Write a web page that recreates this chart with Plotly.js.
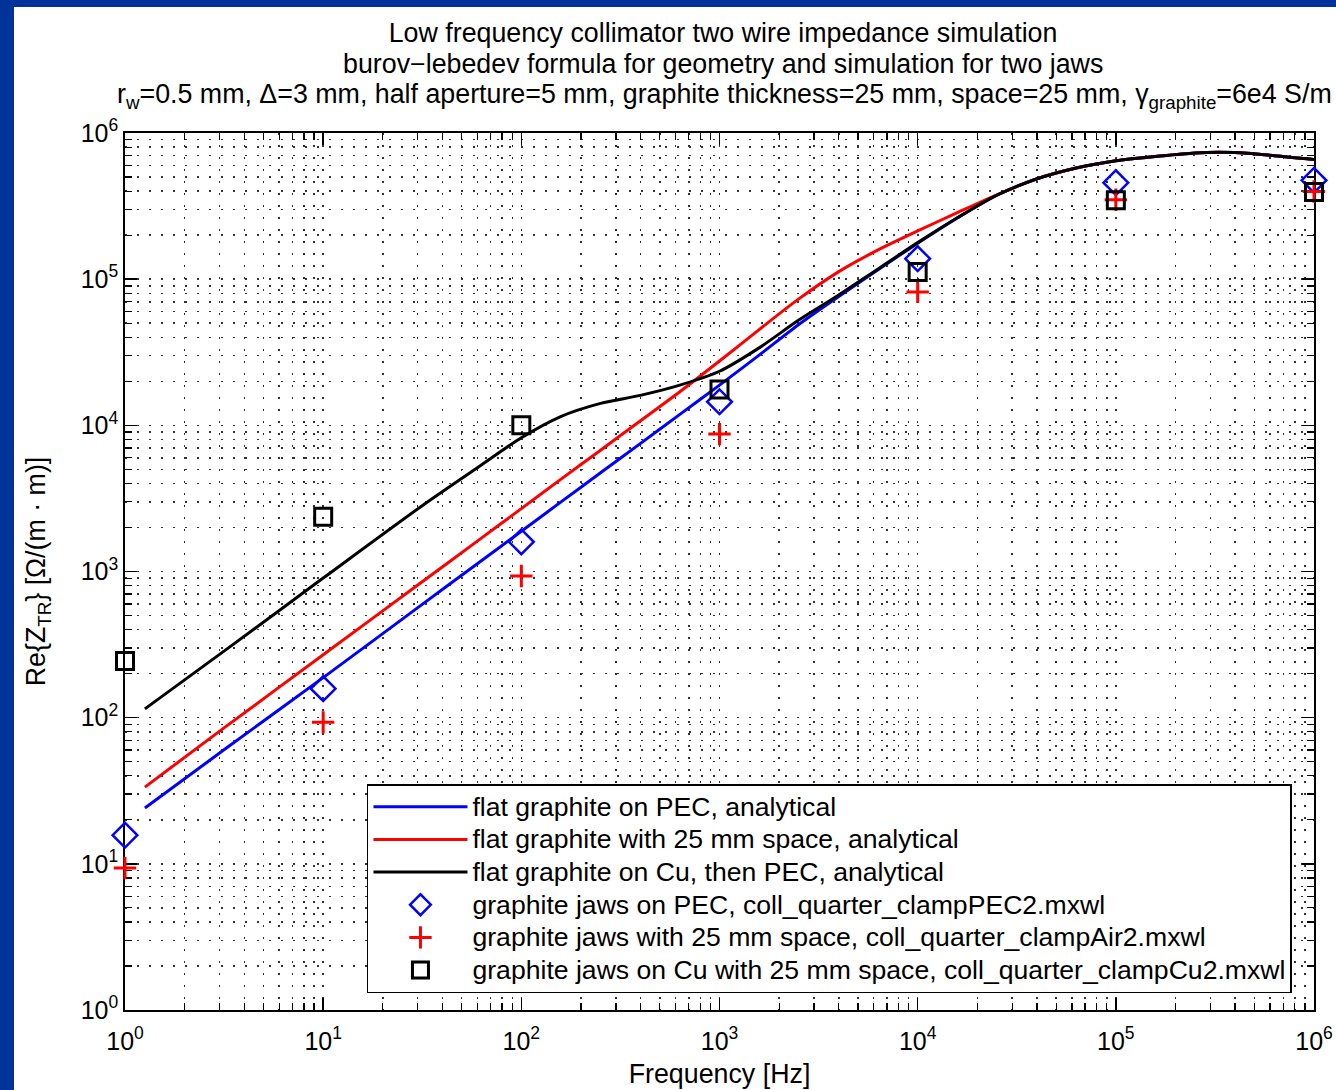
<!DOCTYPE html>
<html>
<head>
<meta charset="utf-8">
<script src="https://cdn.plot.ly/plotly-3.0.1.min.js"></script>
<style>
  html, body { margin: 0; padding: 0; background: #003399; width: 1336px; height: 1090px; overflow: hidden; }
  #chart { position: absolute; left: 14px; top: 7px; width: 1322px; height: 1083px; background: #ffffff; }
</style>
</head>
<body>
<div id="chart"></div>
<script>
// Analytical curves: frequency [Hz] and Re{Z_TR} [Ohm/(m*m)]
const freqAnalytic = [1.26, 3.16, 10, 31.6, 63.1, 100, 158, 251, 398, 631, 1000, 1585, 2512, 3981, 6310,
  1e4, 15850, 25120, 39810, 63100, 1e5, 158500, 251200, 398100, 631000, 1e6];
const zPEC = [24.1, 60.3, 188, 596, 1189, 1884, 2985, 4732, 7499, 11885, 18836, 30200, 48980, 75860, 116100,
  175800, 261800, 375000, 484200, 575400, 645700, 691800, 731100, 734500, 699800, 659200];
const zSpace = [33.5, 85.1, 269.2, 851.1, 1698, 2692, 4266, 6761, 10720, 16980, 27540, 45190, 73280, 112200, 158500,
  213800, 285100, 377600, 485300, 575400, 645700, 691800, 731100, 734500, 699800, 659200];
const zCu = [114.8, 285.1, 901.6, 2818, 5370, 8222, 11480, 14130, 16030, 18840, 23440, 33880, 52480, 77620, 117500,
  177800, 263000, 375800, 484200, 575400, 645700, 691800, 731100, 734500, 699800, 659200];

// Simulation points
const freqSim = [1, 10, 100, 1000, 1e4, 1e5, 1e6];
const simPEC = [15.7, 158, 1596, 14500, 138000, 457000, 475000];
const simAir = [9.35, 92.9, 931, 8710, 81800, 349000, 398000];
const simCu = [244, 2366, 10000, 17600, 112000, 347000, 395000];

// Axis ticks
const decadeVals = [1, 10, 100, 1000, 1e4, 1e5, 1e6];
const decadeText = ['10<sup>0</sup>', '10<sup>1</sup>', '10<sup>2</sup>', '10<sup>3</sup>', '10<sup>4</sup>', '10<sup>5</sup>', '10<sup>6</sup>'];
const minorVals = [];
for (let k = 0; k < 6; k++) { for (let d = 2; d <= 9; d++) { minorVals.push(d * Math.pow(10, k)); } }

const titleLines = [
  'Low frequency collimator two wire impedance simulation',
  'burov\u2212lebedev formula for geometry and simulation for two jaws',
  'r<sub>w</sub>=0.5 mm, \u0394=3 mm, half aperture=5 mm, graphite thickness=25 mm, space=25 mm, \u03b3<sub>graphite</sub>=6e4 S/m'
];

const legendNames = [
  'flat graphite on PEC, analytical',
  'flat graphite with 25 mm space, analytical',
  'flat graphite on Cu, then PEC, analytical',
  'graphite jaws on PEC, coll_quarter_clampPEC2.mxwl',
  'graphite jaws with 25 mm space, coll_quarter_clampAir2.mxwl',
  'graphite jaws on Cu with 25 mm space, coll_quarter_clampCu2.mxwl'
];

const FONT = '"Liberation Sans", Arial, Helvetica, sans-serif';
const FS = 26.8;
const legendLabel = (s) => '<span style="font-size:26.6px">' + s + '</span>';

const traces = [
  { x: freqAnalytic, y: zPEC, mode: 'lines', name: legendLabel(legendNames[0]), line: { color: '#0000ff', width: 3, shape: 'spline', smoothing: 0.8 } },
  { x: freqAnalytic, y: zSpace, mode: 'lines', name: legendLabel(legendNames[1]), line: { color: '#ff0000', width: 3, shape: 'spline', smoothing: 0.8 } },
  { x: freqAnalytic, y: zCu, mode: 'lines', name: legendLabel(legendNames[2]), line: { color: '#000000', width: 3, shape: 'spline', smoothing: 0.8 } },
  { x: freqSim, y: simPEC, mode: 'markers', name: legendLabel(legendNames[3]), cliponaxis: false,
    marker: { symbol: 'diamond-open', size: 19, color: '#0000ff', line: { color: '#0000ff', width: 2.5 } } },
  { x: freqSim, y: simAir, mode: 'markers', name: legendLabel(legendNames[4]), cliponaxis: false,
    marker: { symbol: 'cross-thin-open', size: 16, color: '#ff0000', line: { color: '#ff0000', width: 3 } } },
  { x: freqSim, y: simCu, mode: 'markers', name: legendLabel(legendNames[5]), cliponaxis: false,
    marker: { symbol: 'square-open', size: 17, color: '#000000', line: { color: '#000000', width: 3 } } }
];

const gridCommon = {
  showgrid: true, gridcolor: '#333333', gridwidth: 1.5, griddash: '2px,10px'
};

const axisCommon = Object.assign({
  type: 'log',
  tickmode: 'array',
  tickvals: decadeVals,
  ticktext: decadeText,
  ticks: 'inside', ticklen: 12, tickwidth: 1.5, tickcolor: '#000',
  showline: true, linecolor: '#000', linewidth: 1.8, mirror: 'allticks',
  zeroline: false,
  layer: 'below traces',
  tickfont: { family: FONT, size: 25, color: '#000' },
  minor: Object.assign({ tickmode: 'array', tickvals: minorVals, ticks: 'inside', ticklen: 7, tickwidth: 1.3, tickcolor: '#000' }, gridCommon)
}, gridCommon);

const layout = {
  width: 1322, height: 1083,
  margin: { l: 111, r: 22, t: 126, b: 80 },
  paper_bgcolor: '#ffffff', plot_bgcolor: '#ffffff',
  font: { family: FONT, size: FS, color: '#000' },
  title: {
    text: titleLines[0],
    font: { family: FONT, size: FS, color: '#000' },
    x: 0.503, xref: 'paper', xanchor: 'center',
    y: 1 - 25.5 / 1083, yref: 'container', yanchor: 'middle'
  },
  annotations: [
    { text: titleLines[1], xref: 'paper', yref: 'paper', x: 0.503, y: (1003 - 56.5) / 877,
      xanchor: 'center', yanchor: 'middle', showarrow: false, font: { family: FONT, size: FS, color: '#000' } },
    { text: titleLines[2], xref: 'paper', yref: 'paper', x: 0.504, y: (1003 - 89) / 877,
      xanchor: 'center', yanchor: 'middle', showarrow: false, font: { family: FONT, size: FS, color: '#000' } }
  ],
  xaxis: Object.assign({}, axisCommon, {
    range: [0, 6],
    ticklabelstandoff: 8,
    title: { text: 'Frequency [Hz]', font: { family: FONT, size: FS, color: '#000' }, standoff: 10 }
  }),
  yaxis: Object.assign({}, axisCommon, {
    range: [0, 6],
    title: { text: 'Re{Z<sub>TR</sub>} [\u03a9/(m \u00b7 m)]', font: { family: FONT, size: FS, color: '#000' }, standoff: 27 }
  }),
  showlegend: true,
  legend: {
    x: 0.2035, xanchor: 'left', xref: 'paper',
    y: (1010 - 888.5) / 877, yanchor: 'middle', yref: 'paper',
    bgcolor: '#ffffff', bordercolor: '#000', borderwidth: 1.5,
    font: { family: FONT, size: 22.8, color: '#000' },
    itemwidth: 94, tracegroupgap: 0
  }
};

Plotly.newPlot('chart', traces, layout, { displayModeBar: false, staticPlot: true });
</script>
</body>
</html>
